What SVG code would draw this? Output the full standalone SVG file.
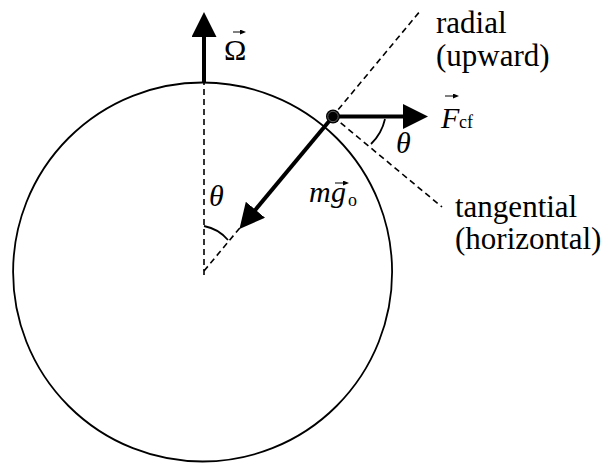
<svg xmlns="http://www.w3.org/2000/svg" width="605" height="463" viewBox="0 0 605 463">
<style>
.t{font-family:"Liberation Serif","Times New Roman",serif;font-size:30px;fill:#000}
.l{font-size:31px}
.i{font-style:italic}
.s{font-size:18px}
.dash{fill:none;stroke:#000;stroke-width:1.6;stroke-dasharray:6 4}
.thin{fill:none;stroke:#000;stroke-width:1.8}
.vec{fill:none;stroke:#000;stroke-width:4;marker-end:url(#ah)}
.sv{fill:none;stroke:#000;stroke-width:1;marker-end:url(#sh)}
</style>
<defs>
<marker id="ah" markerUnits="userSpaceOnUse" viewBox="0 -12.5 25 25" refX="1" refY="0" markerWidth="25" markerHeight="25" orient="auto"><path d="M0,-12.5 L25,0 L0,12.5 z" fill="#000"/></marker>
<marker id="sh" markerUnits="userSpaceOnUse" viewBox="0 -2.5 6 5" refX="1" refY="0" markerWidth="6" markerHeight="5" orient="auto"><path d="M0,-2.5 L6,0 L0,2.5 z" fill="#000"/></marker>
</defs>
<g id="earth">
<circle cx="202.6" cy="272" r="189.5" class="thin"/>
</g>
<g id="connectors">
<line x1="204" y1="275" x2="204" y2="83" class="dash"/>
<line x1="204" y1="271" x2="421" y2="10" class="dash"/>
<line x1="333" y1="116.5" x2="442" y2="207" class="dash"/>
<path d="M204,226 A42,42 0 0 1 228,240" class="thin" stroke-width="1.5"/>
<path d="M385,119 A50,50 0 0 1 371,144" class="thin" stroke-width="1.5"/>
<line x1="204" y1="83" x2="204" y2="36" class="vec"/>
<line x1="333" y1="116.5" x2="404" y2="116.5" class="vec"/>
<line x1="333" y1="116.5" x2="254.8" y2="210.5" class="vec"/>
</g>
<g id="particle">
<circle cx="333" cy="116.5" r="7" fill="#000"/>
<circle cx="333" cy="116.5" r="5.2" fill="none" stroke="#888" stroke-width="0.7"/>
</g>
<g id="omega-label">
<text x="224" y="60" class="t">Ω</text>
<line x1="233" y1="32" x2="241" y2="32" class="sv"/>
</g>
<g id="fcf-label">
<text x="441" y="128" class="t i">F</text>
<text x="459" y="128" class="t s">cf</text>
<line x1="445" y1="96" x2="454" y2="96" class="sv"/>
</g>
<g id="mg-label">
<text x="309" y="202" class="t i">m</text>
<text x="331" y="202" class="t i">g</text>
<text x="348" y="206" class="t s">o</text>
<line x1="335" y1="183" x2="344" y2="183" class="sv"/>
</g>
<g id="theta-labels">
<text x="396" y="153" class="t i">θ</text>
<text x="209" y="206" class="t i">θ</text>
</g>
<g id="radial-label">
<text x="436" y="33" class="t l">radial</text>
<text x="436" y="66" class="t l">(upward)</text>
</g>
<g id="tangential-label">
<text x="455" y="217" class="t l">tangential</text>
<text x="455" y="249" class="t l">(horizontal)</text>
</g>
</svg>
